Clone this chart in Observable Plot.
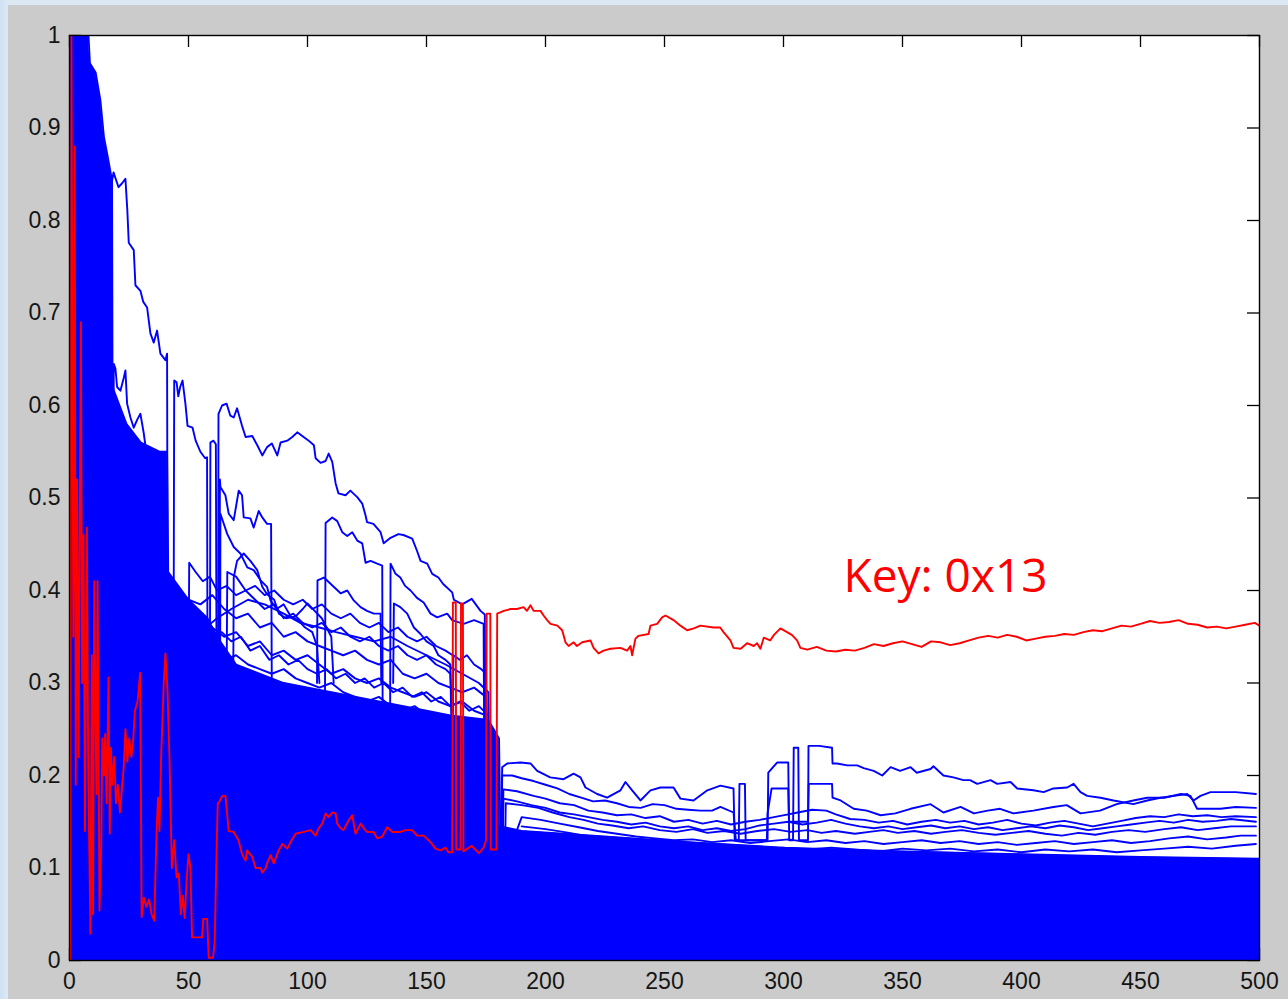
<!DOCTYPE html>
<html>
<head>
<meta charset="utf-8">
<script src="https://cdn.jsdelivr.net/npm/d3@7"></script>
<script src="https://cdn.jsdelivr.net/npm/@observablehq/plot@0.6"></script>
<style>
  html, body { margin: 0; padding: 0; width: 1288px; height: 999px; overflow: hidden;
    background: linear-gradient(90deg, #cfe0f3 0px, #dde8f5 8px); }
  #panel { position: absolute; left: 8px; top: 5px; width: 1280px; height: 994px; background: #cbcbcb; }
  #chart { position: absolute; left: 0; top: 0; }
</style>
</head>
<body>
<div id="panel"></div>
<div id="chart"></div>
<script>
// ---------- tick values / labels ----------
const xTicks = [0, 50, 100, 150, 200, 250, 300, 350, 400, 450, 500];
const xTickLabels = ["0", "50", "100", "150", "200", "250", "300", "350", "400", "450", "500"];
const yTicks = [0, 0.1, 0.2, 0.3, 0.4, 0.5, 0.6, 0.7, 0.8, 0.9, 1];
const yTickLabels = ["0", "0.1", "0.2", "0.3", "0.4", "0.5", "0.6", "0.7", "0.8", "0.9", "1"];
const keyLabel = "Key: 0x13";
const keyPos = [325.2, 0.414];

// ---------- dense blue mass: upper envelope of the overlapping traces ----------
const denseX = [0, 8, 8.6, 11, 13, 14.5, 16, 17.9, 18.1, 24, 30, 38, 41, 41.5, 50, 58, 62, 70, 90, 110, 130, 150, 160, 176, 180.5, 181, 190, 220, 260, 300, 350, 400, 450, 500];
const denseY = [1, 1, 0.97, 0.96, 0.93, 0.89, 0.87, 0.843, 0.62, 0.58, 0.56, 0.55, 0.55, 0.42, 0.39, 0.37, 0.35, 0.32, 0.3, 0.29, 0.28, 0.27, 0.265, 0.26, 0.24, 0.145, 0.14, 0.135, 0.128, 0.122, 0.118, 0.115, 0.112, 0.11];

// ---------- individual blue traces standing out of the mass ----------
const blueA = [[17.6,0.6],[17.9,0.843],[18.5,0.852],[20.6,0.836],[22,0.84],[23.5,0.845],[24.3,0.811],[24.9,0.776],[27,0.768],[27.7,0.73],[29.8,0.724],[31,0.712],[32.6,0.706],[34,0.678],[35.4,0.668],[36.8,0.681],[38.2,0.656],[40.3,0.649],[41,0.656],[41.3,0.3]];
const blueA2 = [[18.3,0.4],[18.6,0.645],[19.3,0.64],[20,0.62],[21.4,0.616],[22.8,0.63],[23.5,0.638],[24.2,0.602],[25.6,0.587],[27,0.576],[28.5,0.585],[29.8,0.591],[31.2,0.57],[32.5,0.545],[33.5,0.53],[34,0.3]];
const blueB = [[43.7,0.3],[44,0.627],[45,0.625],[45.7,0.61],[46.5,0.62],[47.5,0.627],[48.7,0.602],[49.6,0.578],[51.7,0.576],[53,0.562],[55,0.55],[57,0.543],[57.8,0.544],[58,0.3]];
const blueB2 = [[59,0.3],[59.2,0.56],[60.5,0.562],[61.5,0.558],[61.8,0.3]];
const blueC = [[62.4,0.3],[62.6,0.591],[64.1,0.6],[66,0.602],[67.6,0.589],[69,0.587],[70.4,0.597],[72.5,0.578],[74,0.566],[76.8,0.567],[78.9,0.557],[81,0.546],[83,0.555],[85,0.559],[87.3,0.546],[88.7,0.56],[91.5,0.562],[93.6,0.566],[95.7,0.571],[97.8,0.567],[100.5,0.562],[102.7,0.557],[103.4,0.543],[105.5,0.538],[107.6,0.54],[108.9,0.548],[110.4,0.539],[111.8,0.516],[113,0.505],[116,0.503],[118,0.508],[120.9,0.501],[123,0.494],[124.4,0.481],[125,0.474],[127.7,0.472],[130.7,0.463],[132,0.451],[134.9,0.457],[138.2,0.461],[140.3,0.46],[144,0.456],[146,0.443],[147.5,0.432],[150.3,0.429],[152.4,0.418],[155,0.414],[157,0.407],[160.8,0.398],[161.5,0.39],[165,0.385],[169,0.391],[172.7,0.378],[174.5,0.374],[174.8,0.2]];
const blueD = [[107.3,0.25],[107.6,0.473],[110.4,0.479],[112.5,0.475],[114.6,0.463],[116.7,0.459],[118.8,0.463],[120.9,0.454],[123,0.451],[124.4,0.43],[126.5,0.432],[129.3,0.429],[131.4,0.427],[131.6,0.25]];
const blueE = [[134.7,0.25],[134.9,0.429],[137,0.418],[139,0.414],[141,0.405],[143.3,0.4],[146,0.392],[148.8,0.387],[151.7,0.375],[154.5,0.371],[158.7,0.375],[160.8,0.368],[163,0.366],[165.6,0.364],[170,0.368],[174,0.364],[174.3,0.2]];
const blueF = [[62.9,0.3],[63.2,0.52],[63.4,0.512],[65.5,0.503],[66.9,0.483],[69,0.476],[71.1,0.508],[72.5,0.503],[73.2,0.479],[76,0.478],[77.4,0.468],[79.5,0.486],[81,0.479],[83,0.472],[84.7,0.472],[85,0.3]];
const blueG = [[63.3,0.3],[63.4,0.483],[66.3,0.461],[69,0.447],[71.8,0.44],[74.7,0.425],[77.4,0.422],[80.3,0.411],[83,0.404],[84.5,0.389],[87,0.38],[90,0.385],[93,0.372],[96,0.368],[99,0.36],[102,0.355],[104,0.34],[105,0.3]];
const blueH = [[68.8,0.3],[69,0.414],[70.4,0.432],[73.2,0.44],[76,0.432],[78.9,0.422],[81,0.404],[83,0.396],[86,0.39],[88,0.375],[91,0.37],[95,0.372],[98,0.38],[100,0.386],[103,0.378],[106,0.37],[108,0.36],[110,0.35],[111,0.3]];
const blueI = [[104,0.3],[104.2,0.411],[106.9,0.414],[111,0.404],[113.9,0.397],[116.7,0.4],[119.5,0.389],[122.3,0.382],[125,0.378],[127.9,0.375],[130.7,0.375],[131,0.3]];
const blueJ = [[136,0.3],[136.3,0.386],[139,0.382],[141.9,0.375],[144.7,0.36],[147.5,0.353],[150,0.345],[153,0.34],[155,0.33],[158,0.325],[160,0.32],[160.5,0.25]];
const blueM1 = [[45,0.3],[46,0.4],[50,0.39],[55,0.385],[60,0.395],[65,0.38],[70,0.37],[75,0.375],[80,0.36],[85,0.365],[90,0.35],[95,0.355],[100,0.345],[105,0.34],[110,0.335],[115,0.33],[120,0.335],[125,0.325],[130,0.32],[135,0.325],[140,0.31],[145,0.305],[150,0.31],[155,0.3],[160,0.295],[165,0.29],[170,0.295],[175,0.285],[176,0.2]];
const blueM2 = [[50,0.36],[55,0.37],[60,0.36],[65,0.35],[70,0.355],[75,0.34],[80,0.345],[85,0.33],[90,0.335],[95,0.325],[100,0.33],[105,0.32],[110,0.31],[115,0.315],[120,0.305],[125,0.3],[130,0.305],[135,0.295],[140,0.29],[145,0.285],[150,0.29],[155,0.28],[160,0.275],[165,0.28],[170,0.27],[175,0.265],[176,0.2]];
const blueM3 = [[55,0.34],[60,0.335],[65,0.325],[70,0.33],[75,0.32],[80,0.315],[85,0.31],[90,0.315],[95,0.305],[100,0.3],[105,0.295],[110,0.3],[115,0.29],[120,0.285],[125,0.28],[130,0.285],[135,0.275],[140,0.27],[145,0.275],[150,0.265],[155,0.26],[160,0.262],[165,0.255],[170,0.25],[175,0.245],[176,0.2]];
const blueM4 = [[60,0.31],[70,0.305],[80,0.3],[90,0.29],[100,0.285],[110,0.28],[120,0.27],[130,0.268],[140,0.26],[150,0.255],[160,0.25],[170,0.24],[176,0.235]];
const blueM5 = [[48,0.35],[55,0.355],[62,0.37],[68,0.38],[75,0.39],[82,0.385],[90,0.375],[97,0.365],[105,0.36],[112,0.355],[120,0.35],[128,0.345],[135,0.35],[142,0.34],[150,0.33],[158,0.32],[165,0.31],[172,0.3],[176,0.29],[176.5,0.2]];
const blueM6 = [[50,0.3],[50.3,0.43],[53,0.42],[56,0.41],[59,0.415],[62,0.4],[66,0.405],[70,0.395],[74,0.4],[78,0.39],[82,0.38],[86,0.385],[90,0.37],[94,0.375],[98,0.365],[102,0.36],[106,0.365],[110,0.355],[114,0.36],[118,0.35],[122,0.345],[126,0.35],[130,0.34],[134,0.335],[138,0.34],[142,0.33],[146,0.325],[150,0.33],[154,0.32],[158,0.315],[160,0.31],[161,0.25]];
const blueM7 = [[56,0.32],[60,0.35],[64,0.355],[68,0.345],[72,0.35],[76,0.335],[80,0.34],[84,0.325],[88,0.33],[92,0.32],[96,0.325],[100,0.315],[104,0.31],[108,0.315],[112,0.305],[116,0.31],[120,0.3],[124,0.305],[128,0.295],[132,0.3],[136,0.29],[140,0.295],[144,0.285],[148,0.29],[152,0.28],[156,0.285],[160,0.275],[164,0.28],[168,0.27],[172,0.275],[176,0.265]];
const blueM8 = [[66,0.3],[66.3,0.42],[70,0.415],[74,0.4],[78,0.405],[82,0.395],[86,0.4],[90,0.39],[94,0.385],[98,0.39],[102,0.38],[106,0.385],[110,0.375],[114,0.37],[118,0.375],[122,0.365],[126,0.36],[130,0.365],[134,0.355],[138,0.36],[142,0.35],[146,0.345],[150,0.35],[154,0.34],[158,0.335],[161,0.33],[161.3,0.25]];
const blueM9 = [[161,0.25],[161.3,0.33],[164,0.325],[167,0.33],[170,0.32],[173,0.315],[175,0.31],[175.3,0.25]];
const blueR0 = [[181.5,0.15],[181.8,0.209],[183.9,0.213],[189.5,0.214],[193.7,0.213],[196.5,0.205],[202,0.198],[207.6,0.196],[211.8,0.202],[214.7,0.198],[216.8,0.187],[221.7,0.18],[225.9,0.176],[231.5,0.184],[233.6,0.193],[236.4,0.184],[239.9,0.173],[244.1,0.184],[248.3,0.187],[253.8,0.187],[256.7,0.175],[262.2,0.173],[268,0.184],[273.5,0.189],[279,0.186],[279.5,0.13],[281.2,0.13],[281.5,0.191],[283.8,0.191],[284.1,0.13],[293.3,0.13],[293.6,0.203],[297.3,0.214],[302,0.214],[302.4,0.13],[304,0.13],[304.3,0.23],[306.2,0.23],[306.5,0.13],[310.3,0.13],[310.5,0.232],[315,0.232],[320.4,0.23],[320.6,0.213],[322.5,0.213],[326.8,0.211],[331,0.211],[333.7,0.208],[337.9,0.205],[341.5,0.2],[345,0.209],[349,0.205],[353.4,0.209],[356,0.203],[361.8,0.207],[363,0.21],[367.2,0.2],[371.4,0.198],[375.6,0.195],[378.4,0.195],[381.4,0.191],[387,0.195],[389.8,0.191],[395.4,0.193],[398.2,0.186],[405,0.184],[409.3,0.182],[413.4,0.186],[419.2,0.187],[421.9,0.191],[424.8,0.182],[427.6,0.178],[433.2,0.176],[438.7,0.173],[447,0.169],[452.8,0.173],[458.4,0.176],[464,0.178],[469.6,0.18],[472.3,0.173],[475.2,0.178],[479.4,0.182],[483.6,0.182],[490,0.182],[498.5,0.18]];
const blueR2 = [[181.5,0.14],[181.8,0.2],[186,0.2],[190,0.197],[195,0.194],[200,0.19],[205,0.186],[210,0.18],[215,0.176],[220,0.172],[225,0.173],[230,0.17],[235,0.166],[240,0.165],[245,0.169],[250,0.168],[255,0.164],[260,0.163],[265,0.162],[270,0.162],[273.5,0.166],[279,0.16],[280,0.13],[293,0.13],[293.3,0.159],[295,0.186],[298.7,0.186],[302,0.186],[302.3,0.15],[310.3,0.15],[310.6,0.191],[320.4,0.191],[320.6,0.176],[324,0.173],[329.5,0.164],[335,0.162],[340.8,0.157],[347,0.159],[353.4,0.164],[361.8,0.169],[367.2,0.16],[374.4,0.166],[380,0.159],[385.8,0.162],[391,0.164],[396.6,0.159],[405,0.162],[413.4,0.166],[419,0.168],[424.8,0.159],[433,0.162],[440,0.169],[447,0.173],[452.8,0.176],[460,0.176],[467,0.18],[471,0.178],[473.8,0.164],[478,0.164],[483.6,0.164],[490,0.166],[498.5,0.165]];
const blueR3 = [[182,0.13],[182.3,0.185],[188,0.183],[195,0.178],[200,0.175],[206,0.17],[212,0.168],[218,0.162],[224,0.16],[230,0.157],[236,0.158],[242,0.154],[248,0.156],[254,0.15],[260,0.152],[266,0.148],[272,0.151],[278,0.147],[284,0.15],[290,0.152],[296,0.155],[302,0.158],[306,0.16],[312,0.163],[318,0.162],[322,0.158],[328,0.153],[334,0.152],[340,0.149],[346,0.151],[352,0.147],[358,0.15],[364,0.152],[370,0.149],[376,0.151],[382,0.147],[388,0.149],[394,0.152],[400,0.148],[406,0.146],[412,0.149],[418,0.151],[424,0.148],[430,0.145],[436,0.148],[442,0.151],[448,0.154],[454,0.156],[460,0.155],[466,0.158],[472,0.156],[478,0.157],[484,0.155],[490,0.156],[498.5,0.155]];
const blueR4 = [[183,0.12],[183.3,0.17],[190,0.168],[197,0.165],[203,0.16],[210,0.155],[216,0.152],[222,0.148],[228,0.146],[235,0.143],[241,0.145],[248,0.141],[255,0.139],[262,0.142],[268,0.138],[275,0.14],[282,0.137],[289,0.14],[296,0.142],[303,0.139],[310,0.141],[316,0.138],[322,0.14],[330,0.137],[336,0.139],[342,0.141],[348,0.138],[355,0.14],[362,0.137],[368,0.139],[375,0.141],[382,0.138],[389,0.136],[396,0.138],[403,0.14],[410,0.137],[417,0.135],[424,0.138],[431,0.136],[438,0.139],[445,0.141],[452,0.139],[460,0.142],[467,0.144],[474,0.141],[481,0.143],[488,0.145],[498.5,0.145]];
const blueR5 = [[185,0.12],[190,0.155],[198,0.152],[206,0.148],[214,0.144],[222,0.14],[230,0.137],[238,0.134],[246,0.132],[254,0.13],[262,0.131],[270,0.128],[278,0.13],[286,0.127],[294,0.129],[302,0.131],[310,0.128],[318,0.13],[326,0.127],[334,0.129],[342,0.126],[350,0.128],[358,0.13],[366,0.127],[374,0.129],[382,0.126],[390,0.128],[398,0.125],[406,0.127],[414,0.129],[422,0.126],[430,0.128],[438,0.13],[446,0.127],[454,0.129],[462,0.132],[470,0.134],[478,0.131],[486,0.133],[492,0.135],[498.5,0.135]];
const blueR6 = [[190,0.145],[200,0.142],[210,0.138],[220,0.133],[230,0.13],[240,0.127],[250,0.125],[260,0.123],[270,0.121],[280,0.123],[290,0.12],[300,0.122],[310,0.12],[320,0.122],[330,0.12],[340,0.118],[350,0.121],[360,0.119],[370,0.121],[380,0.118],[390,0.12],[400,0.117],[410,0.12],[420,0.118],[430,0.12],[440,0.117],[450,0.119],[460,0.121],[470,0.123],[480,0.121],[490,0.124],[498.5,0.126]];
const blueR7 = [[182,0.12],[182.3,0.175],[188,0.172],[194,0.168],[200,0.165],[206,0.16],[212,0.158],[218,0.155],[224,0.152],[230,0.15],[236,0.147],[242,0.149],[248,0.145],[254,0.143],[260,0.145],[266,0.141],[272,0.143],[278,0.14],[284,0.142],[290,0.146],[296,0.148],[302,0.15],[308,0.147],[314,0.149],[320,0.152],[326,0.148],[332,0.145],[338,0.143],[344,0.145],[350,0.142],[356,0.144],[362,0.146],[368,0.143],[374,0.145],[380,0.142],[386,0.144],[392,0.141],[398,0.143],[404,0.145],[410,0.143],[416,0.146],[422,0.144],[428,0.141],[434,0.143],[440,0.145],[446,0.147],[452,0.149],[458,0.151],[464,0.149],[470,0.152],[476,0.15],[482,0.151],[488,0.153],[498.5,0.15]];

// ---------- the red trace (correct key) ----------
const redTrace = [[0.3,0.0],[0.8,1.0],[1.6,0.35],[2.2,0.88],[2.6,0.19],[3.2,0.52],[3.8,0.22],[4.8,0.69],[5.3,0.3],[5.9,0.46],[6.5,0.14],[7.3,0.468],[7.9,0.2],[8.8,0.029],[9.4,0.33],[9.9,0.05],[10.4,0.41],[11.3,0.18],[11.8,0.41],[12.6,0.054],[13.3,0.12],[13.8,0.24],[14.5,0.2],[15,0.245],[15.6,0.17],[16.4,0.306],[16.9,0.137],[17.4,0.23],[18,0.19],[18.8,0.22],[19.5,0.17],[20.3,0.19],[21.2,0.16],[22,0.185],[22.8,0.21],[23.5,0.25],[24.3,0.215],[25.1,0.24],[26,0.22],[26.8,0.24],[27.5,0.27],[28.6,0.28],[29.7,0.311],[30.3,0.047],[31.2,0.068],[32.3,0.058],[33.4,0.066],[34.5,0.05],[35.6,0.043],[36.6,0.14],[37.2,0.176],[37.8,0.14],[38.5,0.22],[39.6,0.3],[40.3,0.332],[41.2,0.29],[42,0.22],[43,0.1],[44,0.13],[45,0.09],[45.9,0.094],[46.8,0.05],[47.6,0.07],[48.4,0.046],[49.3,0.09],[50,0.115],[50.8,0.1],[51.5,0.025],[55.7,0.025],[56.2,0.045],[57.8,0.045],[58.5,0.003],[60.3,0.003],[61,0.02],[61.9,0.13],[62.3,0.17],[62.6,0.17],[64.2,0.178],[65.5,0.178],[66.9,0.14],[69,0.139],[71,0.13],[72.5,0.115],[74,0.108],[74.6,0.119],[76.8,0.112],[78.2,0.1],[80.3,0.1],[81,0.095],[82.4,0.1],[83,0.105],[84.5,0.114],[85.8,0.105],[87.9,0.119],[89.4,0.126],[91.5,0.121],[92.9,0.128],[95,0.137],[98.4,0.139],[101.3,0.141],[103.4,0.135],[104.7,0.143],[106.2,0.148],[107.6,0.159],[108.9,0.155],[110.4,0.16],[111.8,0.159],[112.5,0.148],[113.9,0.143],[115.1,0.141],[117.2,0.151],[118.8,0.157],[120.2,0.137],[122.3,0.148],[123.6,0.143],[125,0.139],[127.8,0.139],[129.3,0.132],[131.4,0.134],[133.5,0.144],[135.6,0.139],[139,0.139],[141.2,0.141],[144,0.141],[146,0.135],[148.8,0.135],[151.7,0.128],[153.8,0.121],[155.9,0.119],[158,0.122],[159.2,0.117],[160.8,0.117],[161.1,0.387],[162.3,0.387],[162.5,0.12],[164.3,0.12],[164.5,0.386],[165.3,0.386],[165.5,0.118],[169,0.124],[170.5,0.12],[172,0.116],[174,0.122],[175,0.13],[175.3,0.375],[176.8,0.375],[177,0.12],[179.4,0.12],[179.7,0.375],[182.5,0.378],[185.3,0.38],[188,0.38],[190.8,0.382],[192.2,0.378],[193.7,0.384],[195,0.378],[197.9,0.378],[199.2,0.373],[200.7,0.368],[202.1,0.364],[205,0.362],[207,0.357],[208.4,0.344],[209.7,0.34],[211.8,0.344],[213.2,0.34],[215.4,0.344],[218.9,0.346],[220.2,0.338],[222.3,0.332],[224.4,0.335],[227.3,0.337],[231.5,0.338],[234.3,0.335],[235.7,0.34],[236.4,0.33],[237.8,0.348],[239.1,0.351],[243.3,0.353],[244.1,0.362],[246.9,0.364],[249,0.371],[250.4,0.373],[253.8,0.368],[256.7,0.362],[259.5,0.357],[262.3,0.359],[265.1,0.362],[270.6,0.36],[273.4,0.36],[274.8,0.355],[277.7,0.346],[279,0.338],[282,0.337],[284.7,0.343],[287.5,0.34],[288.9,0.343],[290.3,0.337],[291.7,0.349],[294.4,0.346],[296,0.352],[298.7,0.359],[301.5,0.355],[303.5,0.352],[305.7,0.346],[307.1,0.338],[310,0.336],[314,0.339],[318,0.335],[322,0.334],[326,0.336],[330,0.335],[334,0.338],[338,0.342],[342,0.34],[346,0.343],[350,0.345],[354,0.342],[358,0.339],[362,0.345],[366,0.344],[370,0.341],[374,0.343],[378,0.346],[382,0.349],[386,0.351],[390,0.349],[394,0.352],[398,0.35],[402,0.346],[406,0.348],[410,0.35],[414,0.351],[418,0.353],[422,0.352],[426,0.355],[430,0.357],[434,0.356],[438,0.359],[442,0.362],[446,0.361],[450,0.364],[454,0.367],[458,0.365],[462,0.366],[466,0.368],[470,0.364],[474,0.363],[478,0.36],[482,0.361],[486,0.359],[490,0.361],[494,0.363],[498,0.365],[500,0.362]];

// ---------- build tables for the library ----------
const blueTraces = [
  ["A", blueA], ["A2", blueA2], ["B", blueB], ["B2", blueB2], ["C", blueC], ["D", blueD], ["E", blueE],
  ["F", blueF], ["G", blueG], ["H", blueH], ["I", blueI], ["J", blueJ],
  ["M1", blueM1], ["M2", blueM2], ["M3", blueM3], ["M4", blueM4], ["M5", blueM5],
  ["M6", blueM6], ["M7", blueM7], ["M8", blueM8], ["M9", blueM9],
  ["R0", blueR0], ["R2", blueR2], ["R3", blueR3], ["R4", blueR4], ["R5", blueR5], ["R6", blueR6], ["R7", blueR7]
];
const blueRows = blueTraces.flatMap(([id, pts]) => pts.map(([x, y]) => ({id, x, y})));
const denseRows = denseX.map((x, i) => ({x, y: denseY[i]}));
const redRows = redTrace.map(([x, y]) => ({x, y}));

const W = 1288, H = 999;
const mL = 69, mR = 29, mT = 35, mB = 39;
const plotW = W - mL - mR, plotH = H - mT - mB;
const tickLen = 12;
const BLUE = "#0000ff", RED = "#ff0000";

const chart = Plot.plot({
  width: W, height: H,
  marginLeft: mL, marginRight: mR, marginTop: mT, marginBottom: mB,
  style: {background: "transparent", fontFamily: "'Liberation Sans', Arial, sans-serif", fontSize: "23px", color: "#151515"},
  x: {domain: [0, 500], label: null},
  y: {domain: [0, 1], label: null},
  marks: [
    Plot.frame({fill: "white"}),
    // inward MATLAB-style ticks on all four sides
    Plot.ruleX(xTicks, {x: d => d, insetTop: plotH - tickLen, stroke: "black", strokeWidth: 1.3}),
    Plot.ruleX(xTicks, {x: d => d, insetBottom: plotH - tickLen, stroke: "black", strokeWidth: 1.3}),
    Plot.ruleY(yTicks, {y: d => d, insetRight: plotW - tickLen, stroke: "black", strokeWidth: 1.3}),
    Plot.ruleY(yTicks, {y: d => d, insetLeft: plotW - tickLen, stroke: "black", strokeWidth: 1.3}),
    // dense mass of wrong-key traces
    Plot.areaY(denseRows, {x: "x", y: "y", fill: BLUE, clip: true}),
    Plot.line(denseRows, {x: "x", y: "y", stroke: BLUE, strokeWidth: 1.8, clip: true}),
    // individual wrong-key traces
    Plot.line(blueRows, {x: "x", y: "y", z: "id", stroke: BLUE, strokeWidth: 1.9, clip: true}),
    // correct key trace
    Plot.line(redRows, {x: "x", y: "y", stroke: RED, strokeWidth: 1.9, clip: true}),
    Plot.frame({stroke: "black", strokeWidth: 1.4}),
    Plot.axisX({ticks: xTicks, tickSize: 0, tickPadding: 12, fontSize: 23, label: null,
      tickFormat: d => xTickLabels[xTicks.indexOf(d)]}),
    Plot.axisY({ticks: yTicks, tickSize: 0, tickPadding: 9, fontSize: 23, label: null,
      tickFormat: d => yTickLabels[yTicks.indexOf(d)]}),
    Plot.text([keyLabel], {x: keyPos[0], y: keyPos[1], text: d => d, fill: RED,
      fontSize: 46, fontFamily: "'Open Sans', sans-serif", textAnchor: "start", lineAnchor: "middle"})
  ]
});
document.getElementById("chart").appendChild(chart);
</script>
</body>
</html>
